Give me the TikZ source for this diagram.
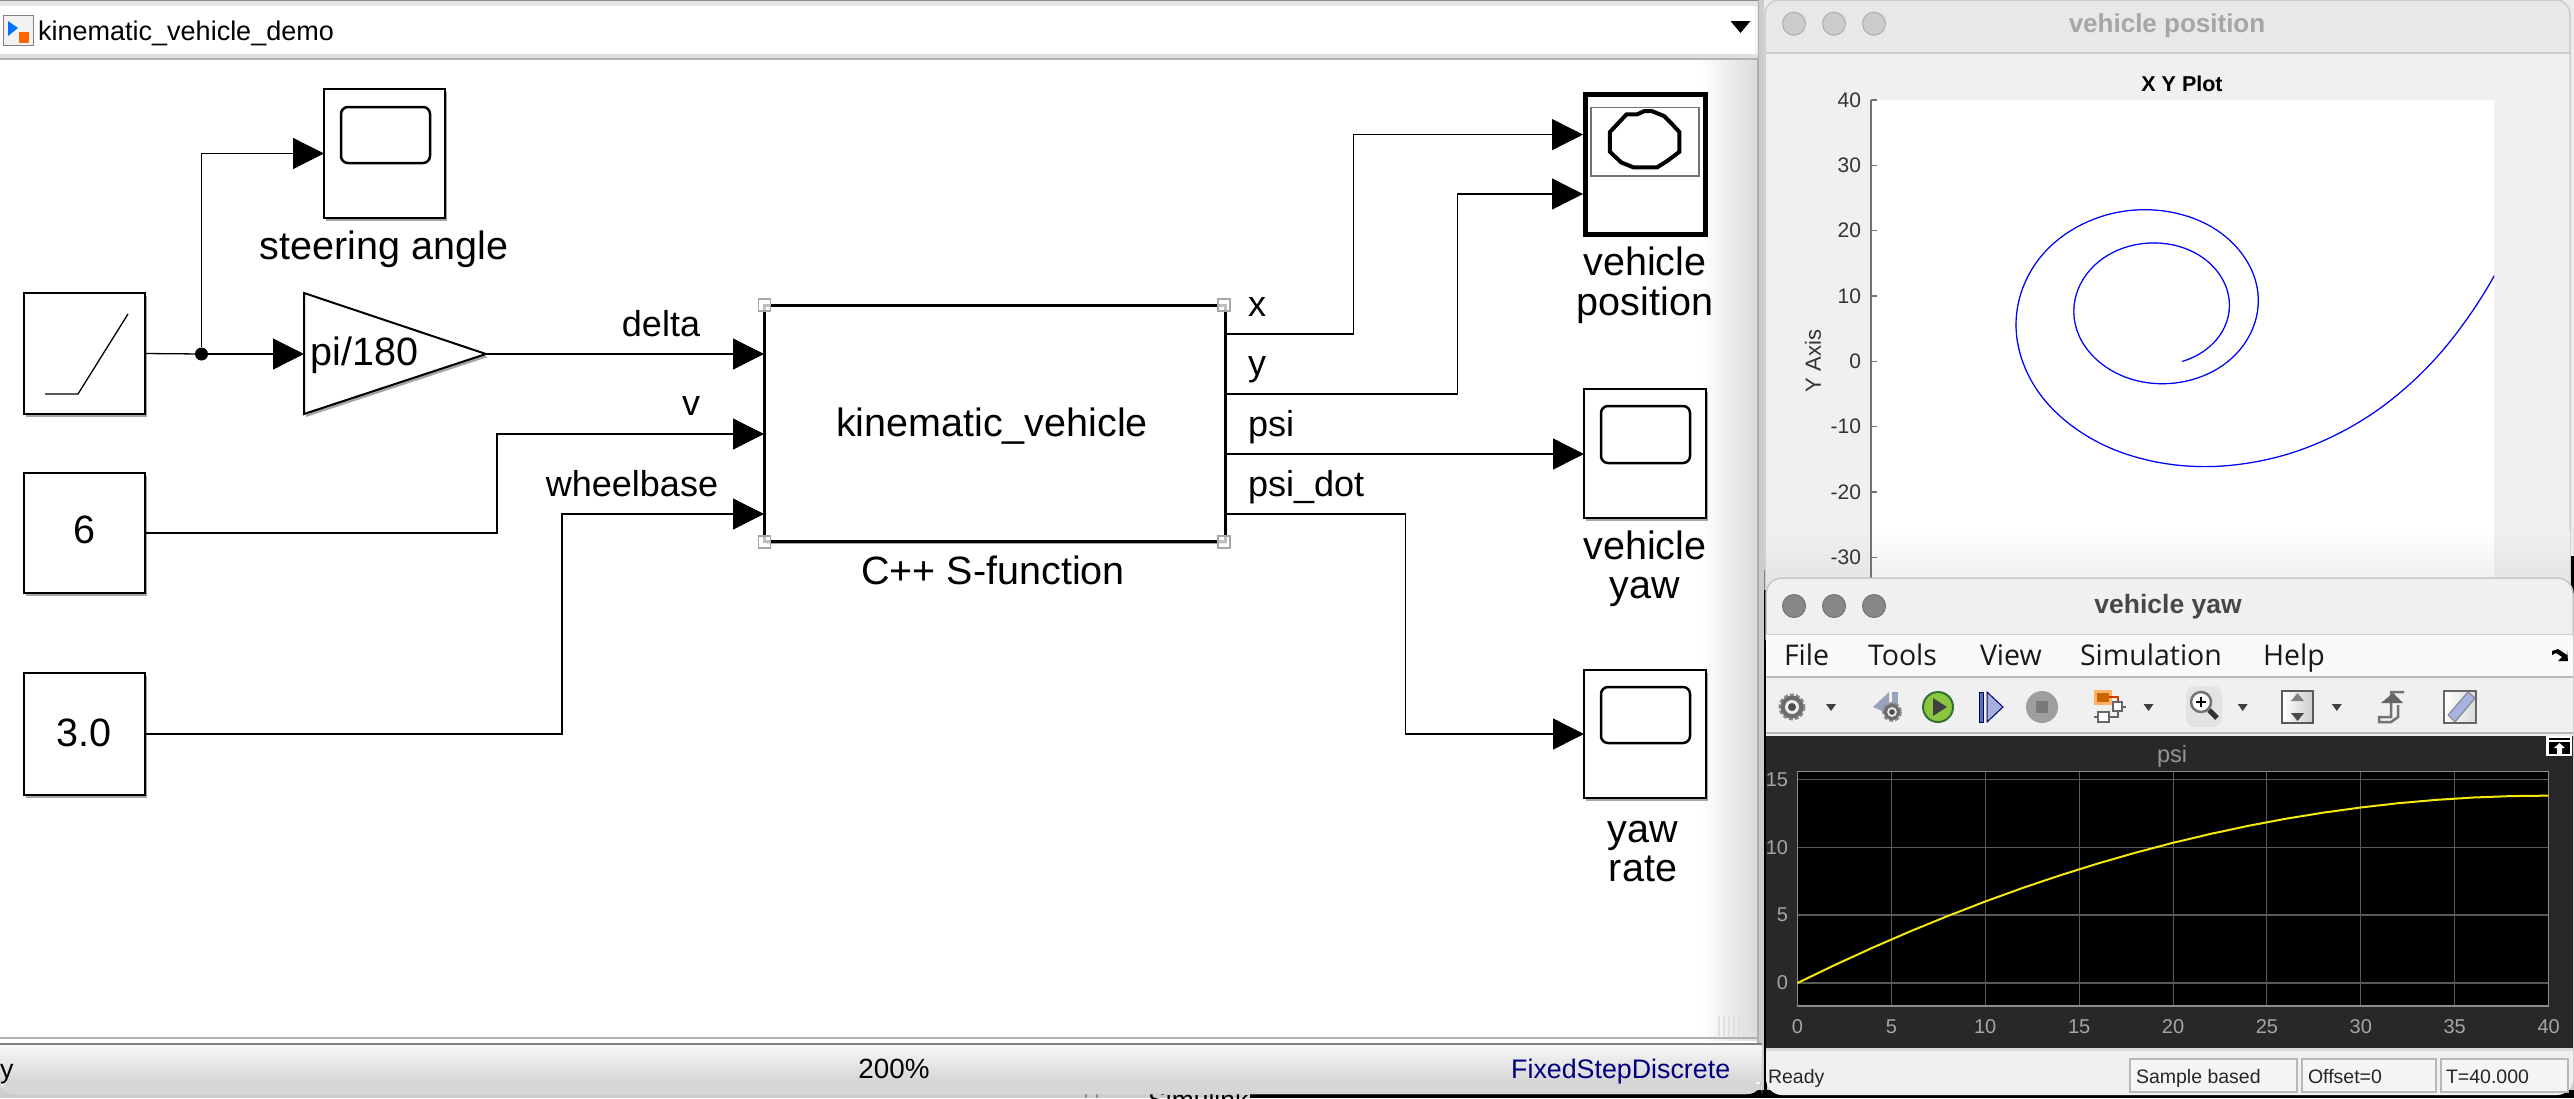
\documentclass[tikz,border=0pt]{standalone}
\usepackage{fontspec}
\setmainfont{Liberation Sans}
\newfontfamily\menufont{Open Sans}
\usetikzlibrary{arrows.meta,shapes.geometric,shadows}
\newcommand{\fs}[1]{\fontsize{#1pt}{#1pt}\selectfont}
\newcommand{\gearicon}[3]{%
  \draw[line width=3pt,draw=gray!90,dash pattern=on 4pt off 2pt] (#1,#2) circle[radius=#3*12];
  \fill[gray!85!black] (#1,#2) circle[radius=#3*11.5];
  \fill[white!85!gray] (#1,#2) circle[radius=#3*7];
  \fill[gray!60!black] (#1,#2) circle[radius=#3*4];}
\newcommand{\dropicon}[1]{\fill[black!75] (#1-5,704) -- (#1+5,704) -- (#1,711) -- cycle;}
\definecolor{sbnavy}{HTML}{00007F}
\definecolor{darkbg}{HTML}{282828}
\definecolor{rungreen}{HTML}{8CC63F}
\tikzset{
  blk/.style={draw=black,fill=white,line width=2pt,inner sep=0pt,outer sep=0pt,anchor=north west,
    drop shadow={shadow xshift=2pt,shadow yshift=-3pt,opacity=0.35,fill=black}},
  wire/.style={draw=black,line width=1.3pt},
  arr/.style={wire,-{Triangle[length=31pt,width=31pt]}},
  lab/.style={inner sep=0pt,outer sep=0pt,anchor=base,font=\fs{39.5}},
  labw/.style={lab,anchor=base west},
  sig/.style={lab,font=\fs{36}},
  sigw/.style={labw,font=\fs{36}},
  handle/.style={draw=black!35,fill=white,fill opacity=0.75,line width=1.2pt,minimum size=12pt,inner sep=0pt,outer sep=0pt},
  scopeglass/.style={draw=black,line width=2.5pt,rounded corners=7pt},
  tickp/.style={inner sep=0pt,outer sep=0pt,anchor=east,font=\fs{21},text=black!80},
  ticky/.style={inner sep=0pt,outer sep=0pt,anchor=east,font=\fs{20},text=black!35},
  tickx/.style={inner sep=0pt,outer sep=0pt,anchor=center,font=\fs{20},text=black!35},
  menu/.style={inner sep=0pt,outer sep=0pt,anchor=base west,font=\menufont\fs{28.5},text=black!90},
  stat/.style={inner sep=0pt,outer sep=0pt,anchor=base west,font=\fs{19.5},text=black!85},
  statbox/.style={draw=black!28,line width=2pt,fill=black!4},
  light/.style={circle,minimum size=23pt,inner sep=0pt},
}
\begin{document}
\begin{tikzpicture}[x=1pt,y=-1pt,line join=miter]
\useasboundingbox (0,0) rectangle (2574,1098);
% --- desktop behind the windows
\fill[black!20] (0,0) rectangle (2574,1098);
\fill[black!8] (1755,0) rectangle (2574,560);
\fill[black] (1250,1090) rectangle (2574,1098);
\fill[black] (1763.5,570) rectangle (1766.5,1098);
\fill[black] (2569,556) rectangle (2574,610);
\draw[black!45,line width=1.5pt] (1086,1090) -- (1086,1098) (1097,1090) -- (1097,1098);
\node[inner sep=0pt,anchor=base west,font=\fs{26.5}] (simtxt) at (1148,1109) {Simulink};

% --- vehicle position window
\fill[black!6] (1765,30) rectangle (2570,590);
\fill[black!9] (1765,53) -- (1765,14) arc[start angle=180,end angle=270,radius=14] -- (2556,0) arc[start angle=270,end angle=360,radius=14] -- (2570,53) -- cycle;
\draw[black!20,line width=1.5pt] (1765,53) -- (2570,53);
\draw[black!20,line width=1.5pt] (1765,590) -- (1765,14) arc[start angle=180,end angle=270,radius=14] -- (2556,0) arc[start angle=270,end angle=360,radius=14] -- (2570,590);
\foreach \lx in {1794,1834,1874} \node[light,fill=black!20,draw=black!32,line width=1pt] at (\lx,23.7) {};
\node[inner sep=0pt,anchor=base,font=\bfseries\fs{26},text=black!35] (ptitle) at (2167,32) {vehicle position};
\fill[white] (1871,100) rectangle (2494,590);
\shade[top color=white,bottom color=black!7,draw=none] (1871,530) rectangle (2494,590);
\shade[top color=black!6,bottom color=black!11,draw=none] (1766,530) rectangle (1871,590);
\shade[top color=black!6,bottom color=black!11,draw=none] (2494,530) rectangle (2570,590);
\node[inner sep=0pt,anchor=base,font=\bfseries\fs{21.5}] (ptitle2) at (2182,91) {X Y Plot};
\draw[black!55,line width=2pt] (1871,100) -- (1871,590);
\foreach \ty/\tl in {100/40,165.3/30,230.6/20,296/10,361.3/0,426.6/-10,492/-20,557.3/-30}{
  \draw[black!55,line width=1.5pt] (1871,\ty) -- (1877,\ty);
  \node[tickp] at (1861,\ty) {\tl};
}
\node[inner sep=0pt,rotate=90,anchor=center,font=\fs{22},text=black!80] (yaxis) at (1813,361) {Y Axis};
\begin{scope}
\clip (1871,100) rectangle (2494,590);
\begin{scope}[shift={(2182.5,361.3)},x=7.79pt,y=6.53pt]
\xdef\spx{0}\xdef\spy{0}
\foreach \k in {1,...,800}{
  \pgfmathsetmacro\dl{20-0.025*(\k-0.5)}
  \pgfmathsetmacro\hd{13131.2*(cos(\dl)-0.939693)+\dl}
  \pgfmathsetmacro\nwx{\spx+0.3*cos(\hd)}
  \pgfmathsetmacro\nwy{\spy+0.3*sin(\hd)}
  \draw[blue,line width=1.2pt,line cap=round] (\spx,\spy) -- (\nwx,\nwy);
  \xdef\spx{\nwx}\xdef\spy{\nwy}
}
\end{scope}
\end{scope}

% --- vehicle yaw window
\fill[black!6,rounded corners=16pt] (1766,1095) -- (1766,578) -- (2573,578) -- (2573,1095) -- cycle;
\draw[black!22,line width=1.5pt,rounded corners=16pt] (1766,640) -- (1766,578) -- (2573,578) -- (2573,640);
\foreach \lx in {1794,1834,1874} \node[light,fill=black!47,draw=black!55,line width=1pt] at (\lx,606) {};
\node[inner sep=0pt,anchor=base,font=\bfseries\fs{26.5},text=black!72] (ytitle) at (2168,613) {vehicle yaw};
\fill[black!2] (1766,634) rectangle (2573,677);
\draw[black!18,line width=1.5pt] (1766,634.5) -- (2573,634.5);
\draw[black!28,line width=2pt] (1766,677) -- (2573,677);
\node[menu] (mfile) at (1784,665) {File};
\node[menu] (mtools) at (1868,665) {Tools};
\node[menu] (mview) at (1980,665) {View};
\node[menu] (msim) at (2080,665) {Simulation};
\node[menu] (mhelp) at (2263,665) {Help};
\fill[black] (2552,651) -- (2558,649) -- (2567,655) -- (2567,650) -- (2568,661) -- (2558,661) -- (2562,657) -- (2556,653) -- (2552,655) -- cycle;
% toolbar
\draw[black!28,line width=2pt] (1766,733) -- (2573,733);
\gearicon{1792}{707}{1}
\dropicon{1831}
\fill[cyan!45!blue!35!gray!70] (1873,707) -- (1889,692) -- (1889,714) -- cycle;
\fill[cyan!45!blue!35!gray!70] (1892,692) rectangle (1898,712);
\gearicon{1892}{712}{0.7}
\fill[rungreen,draw=green!30!black!80,line width=2pt] (1938,707) circle[radius=15];
\fill[black!75] (1933,698) -- (1947,707) -- (1933,716) -- cycle;
\fill[cyan!40!blue!60!gray,draw=blue!40!black,line width=1pt] (1979,692) rectangle (1983,722);
\fill[cyan!30!blue!35,draw=blue!40!black,line width=1pt] (1987,692) -- (2003,707) -- (1987,722) -- cycle;
\fill[black!38] (2042,707) circle[radius=16];
\fill[black!52] (2036,701) rectangle (2048,713);
\fill[orange!60!white] (2094,690) rectangle (2112,705);
\fill[orange!80!black] (2097,693) rectangle (2109,702);
\draw[orange!60!red!80!black,line width=1.5pt] (2109,697) -- (2118,697) -- (2118,702);
\draw[black!60,fill=white,line width=1.5pt] (2113,702) rectangle (2122,711);
\draw[black!60,fill=white,line width=1.5pt] (2098,712) rectangle (2109,722);
\draw[black!60,line width=1.5pt] (2094,717) -- (2098,717) (2109,717) -- (2118,717) -- (2118,711) (2122,707) -- (2126,707);
\dropicon{2148.5}
\fill[black!11,rounded corners=8pt] (2186,686) rectangle (2222,727);
\draw[black!55,fill=white,line width=2.5pt] (2201,702) circle[radius=10];
\draw[black,line width=1.5pt] (2196,702) -- (2206,702) (2201,697) -- (2201,707);
\draw[black!80,line width=5pt] (2209,710) -- (2217,718);
\dropicon{2242.7}
\shade[left color=white,right color=black!20,draw=black!65,line width=2pt] (2282,691) rectangle (2313,723);
\fill[black!50] (2297.5,693) -- (2304,701) -- (2291,701) -- cycle;
\fill[black!70] (2297.5,721) -- (2304,713) -- (2291,713) -- cycle;
\dropicon{2336.8}
\draw[black!55,line width=2.5pt] (2404,692) -- (2391,692) -- (2391,717) -- (2379,717) -- (2379,722) -- (2391,722) -- (2398,717) -- (2398,705);
\fill[black!60] (2381,703) -- (2393,693) -- (2403,703) -- cycle;
\shade[left color=white,right color=black!15,draw=black!60,line width=2pt] (2444,691) rectangle (2476,723);
\fill[cyan!35!blue!35,draw=black!50,line width=1pt] (2448,715) -- (2468,692) -- (2475,698) -- (2455,722) -- cycle;
% dark plot area
\fill[darkbg] (1766,736) rectangle (2573,1048);
\fill[black!14] (1766,1048) rectangle (2573,1051);
\fill[black] (1797.4,771.7) rectangle (2548.5,1006);
\foreach \i in {5,10,...,35} \draw[black!65,line width=1pt] ({1797.4+\i*18.78},771.7) -- ({1797.4+\i*18.78},1006);
\foreach \vy in {779.6,847.4,915.2,983} \draw[black!65,line width=1.5pt] (1797.4,\vy) -- (2548.5,\vy);
\draw[black!45,line width=1.5pt] (1797.4,771.7) rectangle (2548.5,1006);
\begin{scope}[shift={(1797.4,983)},x=18.78pt,y=13.56pt]
\draw[yellow!95!black,line width=2pt] plot[domain=0:40,samples=81,smooth] (\x,{229.183*(cos(20-0.5*\x)-0.939693)});
\end{scope}
\foreach \vy/\vl in {779.6/15,847.4/10,915.2/5,983/0} \node[ticky] at (1788,\vy) {\vl};
\foreach \i in {0,5,...,40} \node[tickx] at ({1797.4+\i*18.78},1027) {\i};
\node[inner sep=0pt,anchor=base,font=\fs{23.5},text=black!42] (psititle) at (2172,762) {psi};
\fill[white] (2546,736) rectangle (2572,756);
\fill[black] (2549,742) rectangle (2570,754);
\fill[black] (2549,738) rectangle (2570,740);
\fill[white] (2559.5,743) -- (2565,748) -- (2562,748) -- (2562,754) -- (2557,754) -- (2557,748) -- (2554,748) -- cycle;
% status
\filldraw[statbox] (2130,1059) rectangle (2297,1092);
\filldraw[statbox] (2302,1059) rectangle (2436,1092);
\filldraw[statbox] (2441,1059) rectangle (2568,1092);
\node[stat] (sready) at (1768,1083) {Ready};
\node[stat] (ssample) at (2136,1083) {Sample based};
\node[stat] (soffset) at (2308,1083) {Offset=0};
\node[stat] (stime) at (2446,1083) {T=40.000};

% --- Simulink window
\fill[black!20] (1755,0) rectangle (1764,1060);
\fill[white,rounded corners=14pt] (0,1094) -- (1760,1094) -- (1760,1044) -- (0,1044) -- cycle;
\fill[white] (0,0) rectangle (1758,1044);
\shade[left color=white,right color=black!14] (1700,60) rectangle (1758,1040);
\draw[black!32,line width=1.5pt] (1758,0) -- (1758,1044);
\fill[black!10] (0,0) rectangle (1758,6);
\draw[black!45,line width=1.5pt] (0,0.5) -- (1758,0.5);
\fill[black!12] (0,54) rectangle (1758,60);
\draw[black!30,line width=2pt] (0,59) -- (1758,59);
\fill[black!5] (1755,6) rectangle (1758,54);
% title icon
\filldraw[fill=black!5,draw=black!50,line width=1pt] (3,15) rectangle (33,45);
\fill[blue!55!cyan] (8,21) -- (18,28) -- (8,36) -- cycle;
\fill[orange!80!red] (19,32) rectangle (29,43);
\node[inner sep=0pt,anchor=base west,font=\fs{27}] (mtitle) at (38,40) {kinematic\_vehicle\_demo};
\fill[black] (1730.5,21) -- (1750.5,21) -- (1740.5,33) -- cycle;
% status bar
\shade[top color=black!3,bottom color=black!16,rounded corners=0pt] (0,1045) rectangle (1762,1081);
\fill[black!16,rounded corners=14pt] (0,1080) -- (0,1094) -- (1762,1094) -- (1762,1080) -- cycle;
\draw[black!30,line width=1.5pt] (0,1038) -- (1758,1038);
\draw[black!50,line width=2pt] (0,1044) -- (1762,1044);
\foreach \gx in {1718,1723,...,1748} \fill[black!12] (\gx,1016) rectangle (\gx+2,1036);
\node[inner sep=0pt,anchor=base west,font=\fs{26.8}] (sty) at (0,1078) {y};
\node[inner sep=0pt,anchor=base,font=\fs{27.8}] (szoom) at (894,1078) {200\%};
\node[inner sep=0pt,anchor=base west,font=\fs{26.8},text=sbnavy] (ssolver) at (1511,1078) {FixedStepDiscrete};

% --- blocks
\node[blk,minimum width=121pt,minimum height=129pt] (steer) at (324,89) {};
\node[blk,minimum width=121pt,minimum height=121pt] (ramp) at (24,293) {};
\node[blk,minimum width=121pt,minimum height=120pt] (six) at (24,473) {};
\node[blk,minimum width=121pt,minimum height=122pt] (three) at (24,673) {};
\draw[blk] (304,293) -- (486,354) -- (304,414) -- cycle;
\coordinate (gainin) at (304,354);
\coordinate (gainout) at (486,354);
\node[blk,line width=3pt,minimum width=461pt,minimum height=236pt] (sf) at (764,305) {};
\node[blk,line width=5pt,minimum width=120pt,minimum height=140pt] (xy) at (1585,94) {};
\node[blk,minimum width=122pt,minimum height=129pt] (yaw) at (1584,389) {};
\node[blk,minimum width=122pt,minimum height=128pt] (rate) at (1584,670) {};
% block glyphs
\draw[scopeglass] (341,107) rectangle (430,163);
\draw[scopeglass] (1601,406) rectangle (1690,463);
\draw[scopeglass] (1601,687) rectangle (1690,743);
\draw[wire] (45,394) -- (78,394) -- (128,314);
\draw[black!55,line width=1.5pt] (1591,107.5) rectangle (1699,176);
\begin{scope}[shift={(1200,50)},x=0.357pt,y=-0.357pt]
\draw[black,line width=4pt] (1148,230) -- (1195,180) -- (1225,180) -- (1245,171) -- (1265,171) -- (1300,185) -- (1320,205) -- (1343,230) -- (1343,285) -- (1310,310) -- (1280,329) -- (1215,329) -- (1180,315) -- (1148,285) -- cycle;
\end{scope}
% port coordinates
\coordinate (sfi1) at (764,354);
\coordinate (sfi2) at (764,434);
\coordinate (sfi3) at (764,514);
\coordinate (sfo1) at (1225,334);
\coordinate (sfo2) at (1225,394);
\coordinate (sfo3) at (1225,454);
\coordinate (sfo4) at (1225,514);
\coordinate (xyi1) at (1583,134.6);
\coordinate (xyi2) at (1583,194);
\coordinate (yawi) at (1584,454);
\coordinate (ratei) at (1584,734);
\node[circle,fill=black,minimum size=13pt,inner sep=0pt] (jn) at (201.5,354) {};
% --- wires
\draw[wire] (ramp.east) -- (jn);
\draw[arr] (jn) -- (gainin);
\draw[arr] (jn) |- (steer.west);
\draw[arr] (gainout) -- (sfi1);
\draw[arr] (six.east) -- (497,533) -- (497,434) -- (sfi2);
\draw[arr] (three.east) -- (562,734) -- (562,514) -- (sfi3);
\draw[arr] (sfo1) -- (1353.6,334) -- (1353.6,134.6) -- (xyi1);
\draw[arr] (sfo2) -- (1457.5,394) -- (1457.5,194) -- (xyi2);
\draw[arr] (sfo3) -- (yawi);
\draw[arr] (sfo4) -- (1405.7,514) -- (1405.7,734) -- (ratei);
% handles
\node[handle] (h1) at (764.5,305) {};
\node[handle] (h2) at (1224,305) {};
\node[handle] (h3) at (764.5,542) {};
\node[handle] (h4) at (1224,542) {};
% --- labels
\node[lab] (tsteer) at (384,259) {steering angle};
\node[labw] (tgain) at (310.6,365.5) {pi/180};
\node[lab] (tsix) at (84,543) {6};
\node[lab] (tthree) at (84,746) {3.0};
\node[lab] (tsf) at (992,436) {kinematic\_vehicle};
\node[lab] (tcpp) at (993,584) {C++ S-function};
\node[sig] (tdelta) at (661,336) {delta};
\node[sig] (tv) at (691,415) {v};
\node[sig] (twb) at (632,496) {wheelbase};
\node[sigw] (tx) at (1248,316) {x};
\node[sigw] (ty) at (1248,375) {y};
\node[sigw] (tpsi) at (1248,436) {psi};
\node[sigw] (tpsid) at (1248,496) {psi\_dot};
\node[lab] (tvp1) at (1645,275) {vehicle};
\node[lab] (tvp2) at (1645,315) {position};
\node[lab] (tvy1) at (1645,559) {vehicle};
\node[lab] (tvy2) at (1645,598) {yaw};
\node[lab] (try1) at (1643,842) {yaw};
\node[lab] (try2) at (1643,881) {rate};
\end{tikzpicture}
\end{document}
